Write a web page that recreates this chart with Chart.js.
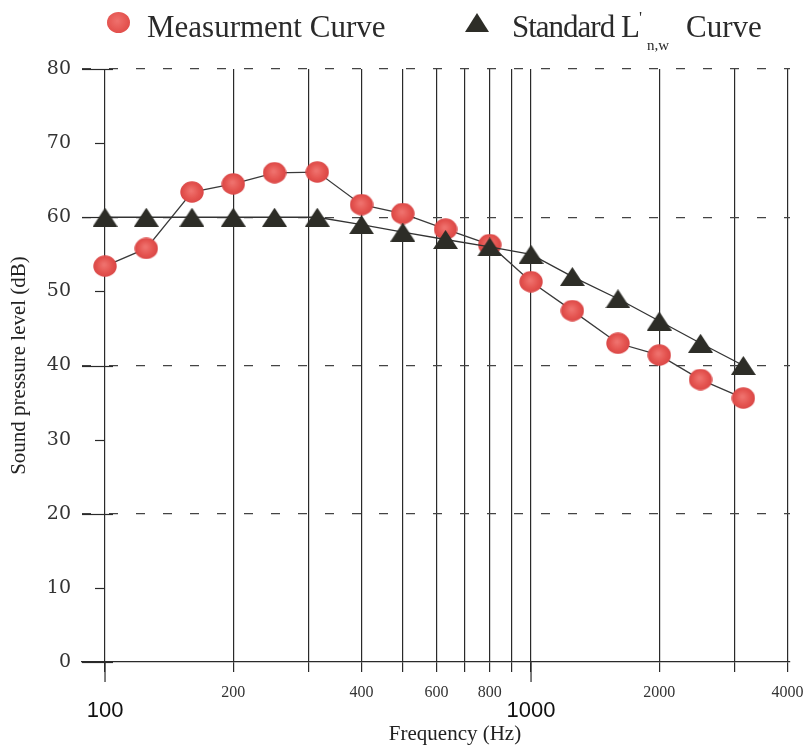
<!DOCTYPE html>
<html>
<head>
<meta charset="utf-8">
<script src="https://cdn.jsdelivr.net/npm/chart.js@4/dist/chart.umd.min.js"></script>
<style>
  html, body { margin: 0; padding: 0; background: #ffffff; }
  #wrap { position: relative; width: 808px; height: 747px; overflow: hidden; }
  #chart { position: absolute; left: 0; top: 0; }
  .lg { position: absolute; font-family: "Liberation Serif", "Times New Roman", serif; color: #2a2a2a; white-space: nowrap; line-height: 1; }
  #dot { position: absolute; left: 107px; top: 12px; width: 23px; height: 21px; border-radius: 50%;
         background: radial-gradient(circle at 45% 42%, #ef716d 0%, #e4534f 60%, #d94646 100%); }
  #tri { position: absolute; left: 465px; top: 13px; width: 0; height: 0;
         border-left: 12px solid transparent; border-right: 12px solid transparent; border-bottom: 19px solid #2d2d27; }
  #xtitle { position: absolute; left: 355px; width: 200px; top: 723px; text-align: center; font-size: 21px; color: #222; }
</style>
</head>
<body>
<div id="wrap">
  <canvas id="chart" width="808" height="747"></canvas>
  <div id="dot"></div>
  <div class="lg" style="left:147px; top:11px; font-size:31px;">Measurment Curve</div>
  <div id="tri"></div>
  <div class="lg" style="left:512px; top:11px; font-size:31px; letter-spacing:-1px;">Standard L</div>
  <div class="lg" style="left:639px; top:9px; font-size:17px;">'</div>
  <div class="lg" style="left:647px; top:38px; font-size:15px;">n,w</div>
  <div class="lg" style="left:686px; top:11px; font-size:31px;">Curve</div>
  <div class="lg" id="xtitle"></div>
</div>
<script>
// ---- data ----
const FREQUENCIES = [100, 125, 160, 200, 250, 315, 400, 500, 630, 800, 1000, 1250, 1600, 2000, 2500, 3150];
const MEASUREMENT = [53.4, 55.8, 63.4, 64.5, 66.0, 66.1, 61.7, 60.5, 58.4, 56.3, 51.3, 47.4, 43.0, 41.4, 38.1, 35.6];
const STANDARD    = [60, 60, 60, 60, 60, 60, 59, 58, 57, 56, 55, 52, 49, 46, 43, 40];
const GRID_FREQS = [100, 200, 300, 400, 500, 600, 700, 800, 900, 1000, 2000, 3000, 4000];
const SMALL_TICK_LABELS = [200, 400, 600, 800, 2000, 4000];
const LARGE_TICK_LABELS = [100, 1000];
const SERIES_NAMES = ['Measurment Curve', "Standard L'n,w Curve"];
const X_TITLE = 'Frequency (Hz)';
const Y_TITLE = 'Sound pressure level (dB)';

const X_MIN = 88.3, X_MAX = 4054, Y_MIN = 0, Y_MAX = 80, Y_STEP = 10;
const SERIF = '"Liberation Serif", "Times New Roman", serif';
const SANS = '"Liberation Sans", Arial, sans-serif';

document.getElementById('xtitle').textContent = X_TITLE;

// ---- marker images ----
function circleMarker() {
  const c = document.createElement('canvas');
  c.width = 24; c.height = 22;
  const g = c.getContext('2d');
  const grad = g.createRadialGradient(11, 9.5, 1, 12, 11, 12);
  grad.addColorStop(0, '#ef716d');
  grad.addColorStop(0.6, '#e4534f');
  grad.addColorStop(1, '#d84545');
  g.fillStyle = grad;
  g.beginPath();
  g.ellipse(12, 11, 11.7, 10.7, 0, 0, Math.PI * 2);
  g.fill();
  return c;
}
function triangleMarker() {
  const c = document.createElement('canvas');
  c.width = 25; c.height = 19;
  const g = c.getContext('2d');
  g.fillStyle = '#2d2d27';
  g.beginPath();
  g.moveTo(12.5, 0); g.lineTo(25, 19); g.lineTo(0, 19); g.closePath();
  g.fill();
  return c;
}

const toPoints = (vals) => FREQUENCIES.map((f, i) => ({ x: f, y: vals[i] }));
const noPad = s => { s.paddingLeft = 0; s.paddingRight = 0; };

const axisMarks = {
  id: 'axisMarks',
  beforeDatasetsDraw(chart) {
    const { ctx, chartArea, scales: { x, y } } = chart;
    const x0 = x.getPixelForValue(FREQUENCIES[0]);
    ctx.save();
    ctx.strokeStyle = '#2a2a2a';
    ctx.lineWidth = 1.2;
    y.ticks.forEach(t => {
      const py = Math.round(y.getPixelForValue(t.value)) + 0.5;
      const major = t.value % 20 === 0;
      ctx.beginPath();
      ctx.moveTo(major ? chartArea.left : x0 - 10, py);
      ctx.lineTo(major ? x0 + 8 : x0, py);
      ctx.stroke();
    });
    LARGE_TICK_LABELS.forEach(v => {
      const px = x.getPixelForValue(v);
      ctx.beginPath();
      ctx.moveTo(px, chartArea.bottom);
      ctx.lineTo(px, chartArea.bottom + 20);
      ctx.stroke();
    });
    ctx.restore();
  }
};

new Chart(document.getElementById('chart'), {
  type: 'line',
  data: {
    datasets: [
      {
        label: SERIES_NAMES[1],
        data: toPoints(STANDARD),
        borderColor: '#333',
        borderWidth: 1.3,
        pointStyle: triangleMarker(),
        pointRadius: 10,
        order: 0
      },
      {
        label: SERIES_NAMES[0],
        data: toPoints(MEASUREMENT),
        borderColor: '#3a3a3a',
        borderWidth: 1.3,
        pointStyle: circleMarker(),
        pointRadius: 10,
        order: 1
      }
    ]
  },
  options: {
    responsive: false,
    animation: false,
    devicePixelRatio: 1,
    layout: { padding: { top: 69, right: 18, bottom: 0, left: 0 } },
    plugins: { legend: { display: false }, tooltip: { enabled: false } },
    elements: { line: { tension: 0 } },
    scales: {
      x: {
        type: 'logarithmic', position: 'bottom', min: X_MIN, max: X_MAX, bounds: 'data',
        afterBuildTicks: s => { s.ticks = GRID_FREQS.map(v => ({ value: v })); },
        afterFit: s => { s.height = 36; noPad(s); },
        grid: { color: '#2a2a2a', lineWidth: 1.2, drawTicks: true, tickLength: 10, tickColor: '#2a2a2a' },
        border: { display: true, color: '#2a2a2a', width: 1.3 },
        ticks: {
          autoSkip: false, maxRotation: 0, minRotation: 0, padding: 11, color: '#333',
          font: { family: SERIF, size: 16 },
          callback: v => SMALL_TICK_LABELS.includes(v) ? String(v) : ''
        }
      },
      x2: {
        type: 'logarithmic', position: 'bottom', min: X_MIN, max: X_MAX, bounds: 'data',
        afterBuildTicks: s => { s.ticks = LARGE_TICK_LABELS.map(v => ({ value: v })); },
        afterFit: s => { s.height = 49; noPad(s); },
        grid: { display: false, drawTicks: false },
        border: { display: false },
        ticks: {
          autoSkip: false, maxRotation: 0, minRotation: 0, padding: 0, color: '#111',
          font: { family: SANS, size: 22 },
          callback: v => String(v)
        }
      },
      y: {
        type: 'linear', position: 'left', min: Y_MIN, max: Y_MAX,
        afterFit: s => { s.width = 82; },
        ticks: { stepSize: Y_STEP, padding: 11, color: '#333', font: { family: '"DejaVu Serif", serif', size: 19 } },
        grid: {
          drawTicks: false, lineWidth: 1.2,
          color: c => (c.tick && c.tick.value % 20 === 0 && c.tick.value > 0) ? '#444' : 'rgba(0,0,0,0)'
        },
        border: { display: false, dash: [9, 18] },
        title: { display: true, text: Y_TITLE, color: '#222', font: { family: SERIF, size: 21 }, padding: { top: 7, bottom: 0 } }
      }
    }
  },
  plugins: [axisMarks]
});
</script>
</body>
</html>
